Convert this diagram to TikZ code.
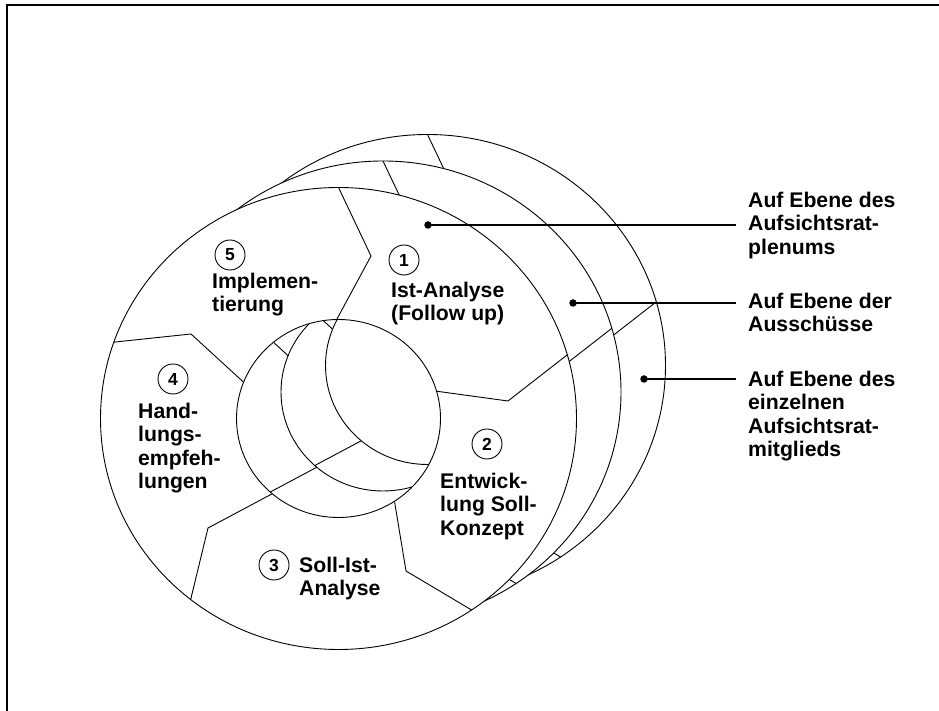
\documentclass[tikz,border=0pt]{standalone}
\usepackage{fontspec}
\setmainfont{Liberation Sans}
\begin{document}
\begin{tikzpicture}[x=1pt,y=1pt,
  ringline/.style={line width=0.9pt},
  leader/.style={line width=2pt},
  frameline/.style={line width=2.4pt},
  dot/.style={circle,fill=black,inner sep=0pt,minimum size=7.5pt},
  label/.style={font=\fontsize{21.2}{23.5}\selectfont\bfseries,align=left,
    anchor=north west,inner sep=0pt},
  numcircle/.style={draw,circle,line width=0.9pt,minimum size=30pt,inner sep=0pt,
    font=\fontsize{17.5}{19}\selectfont\bfseries},
  % one ring of the cycle: white annulus, outline and five segment borders
  disc/.pic={
    \fill[white,even odd rule] (0,0) ellipse [x radius=238pt,y radius=231pt]
                               (0,0) ellipse [x radius=102pt,y radius=99pt];
    \draw[ringline] (0,0) ellipse [x radius=238pt,y radius=231pt]
                    (0,0) ellipse [x radius=102pt,y radius=99pt];
    \draw[ringline] (90:238pt and 231pt) -- (32.5,162.5) -- (91:102pt and 99pt);
    \draw[ringline] (16:238pt and 231pt) -- (169.5,17.5) -- (16:102pt and 99pt);
    \draw[ringline] (-56:238pt and 231pt) -- (67.5,-152.5) -- (-56.7:102pt and 99pt);
    \draw[ringline] (-128.4:238pt and 231pt) -- (-130.5,-109.5) -- (-130.5:102pt and 99pt);
    \draw[ringline] (160.7:238pt and 231pt) -- (-147.5,84.5) -- (158.5:102pt and 99pt);
  }]
\useasboundingbox (0,0) rectangle (939,711);

% frame
\draw[frameline] (7,0) -- (7,706) -- (939,706);

% three levels, back to front
\coordinate (back) at (427.5,345.5);
\coordinate (middle) at (383,319);
\coordinate (front) at (338.5,292.5);
\pic at (back) {disc};
\pic at (middle) {disc};
\pic at (front) {disc};

% segment numbers and titles
\node[numcircle] (n1) at (404,451) {1};
\node[numcircle] (n2) at (487,267) {2};
\node[numcircle] (n3) at (274,146) {3};
\node[numcircle] (n4) at (173,332) {4};
\node[numcircle] (n5) at (230,456) {5};

\node[label] (t1) at (391,430.5) {\strut Ist-Analyse\\(Follow up)};
\node[label] (t2) at (440,239.5) {\strut Entwick-\\lung Soll-\\Konzept};
\node[label] (t3) at (299,155.5) {\strut Soll-Ist-\\Analyse};
\node[label] (t4) at (138,309.5) {\strut Hand-\\lungs-\\empfeh-\\lungen};
\node[label] (t5) at (212,439.5) {\strut Implemen-\\tierung};

% level legend
\node[label] (l1) at (748,520.5) {\strut Auf Ebene des\\Aufsichtsrat-\\plenums};
\node[label] (l2) at (748,419.5) {\strut Auf Ebene der\\Ausschüsse};
\node[label] (l3) at (748,341.5) {\strut Auf Ebene des\\einzelnen\\Aufsichtsrat-\\mitglieds};

\node[dot] (p1) at (428,486) {};
\node[dot] (p2) at (573,408) {};
\node[dot] (p3) at (644,332) {};
\coordinate (e1) at (736,486);
\coordinate (e2) at (736,408);
\coordinate (e3) at (736,332);
\draw[leader] (p1.center) -- (e1);
\draw[leader] (p2.center) -- (e2);
\draw[leader] (p3.center) -- (e3);
\end{tikzpicture}
\end{document}
